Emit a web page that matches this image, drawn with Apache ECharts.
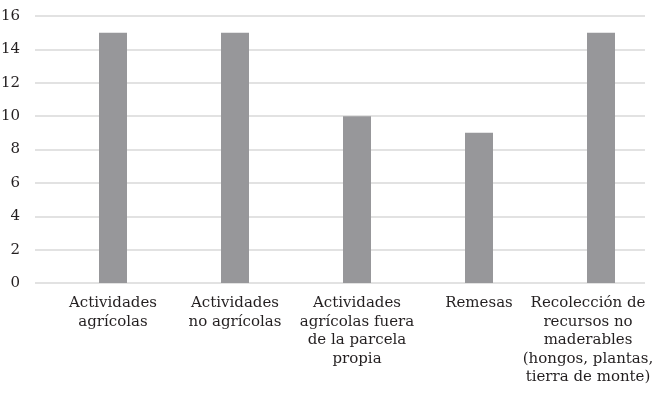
<!DOCTYPE html>
<html>
<head>
<meta charset="utf-8">
<script src="https://cdn.jsdelivr.net/npm/echarts@6/dist/echarts.min.js"></script>
<style>
  html, body { margin: 0; padding: 0; background: #fff; }
  #chart { width: 653px; height: 393px; }
</style>
</head>
<body>
<div id="chart"></div>
<script>
const categories = [
  'Actividades\nagrícolas',
  'Actividades\nno agrícolas',
  'Actividades\nagrícolas fuera\nde la parcela\npropia',
  'Remesas',
  'Recolección de\nrecursos no\nmaderables\n(hongos, plantas,\ntierra de monte)'
];
const values = [15, 15, 10, 9, 15];
const yTicks = {min: 0, max: 16, interval: 2};

const font = 'DejaVu Serif';
const ink = '#231f20';

const chart = echarts.init(document.getElementById('chart'), null, {renderer: 'canvas'});

// the last label is pulled left so that it stays inside the page
const categoryData = categories.map((c, i) =>
  i === categories.length - 1 ? {value: c, textStyle: {padding: [0, 26, 0, 0]}} : c);

chart.setOption({
  animation: false,
  backgroundColor: '#fff',
  grid: [
    {left: 35, top: 16, width: 610, height: 267, outerBoundsMode: 'none', containLabel: false},
    {left: 52, top: 16, width: 610, height: 267, outerBoundsMode: 'none', containLabel: false}
  ],
  xAxis: [
    {gridIndex: 0, type: 'value', show: false},
    {
      gridIndex: 1,
      type: 'category',
      data: categoryData,
      axisLine: {show: false},
      axisTick: {show: false},
      axisLabel: {
        interval: 0,
        margin: 11,
        color: ink,
        fontFamily: font,
        fontSize: 15,
        lineHeight: 18.5
      }
    }
  ],
  yAxis: [
    {
      gridIndex: 0,
      type: 'value',
      min: yTicks.min,
      max: yTicks.max,
      interval: yTicks.interval,
      axisLine: {show: false},
      axisTick: {show: false},
      axisLabel: {margin: 15, color: ink, fontFamily: font, fontSize: 15},
      splitLine: {lineStyle: {color: '#d9d9d9', width: 1.5}}
    },
    {
      gridIndex: 1,
      type: 'value',
      min: yTicks.min,
      max: yTicks.max,
      interval: yTicks.interval,
      show: false,
      splitLine: {show: false}
    }
  ],
  series: [{
    type: 'bar',
    xAxisIndex: 1,
    yAxisIndex: 1,
    data: values,
    barWidth: 28,
    itemStyle: {color: '#97979a'}
  }]
});
</script>
</body>
</html>
